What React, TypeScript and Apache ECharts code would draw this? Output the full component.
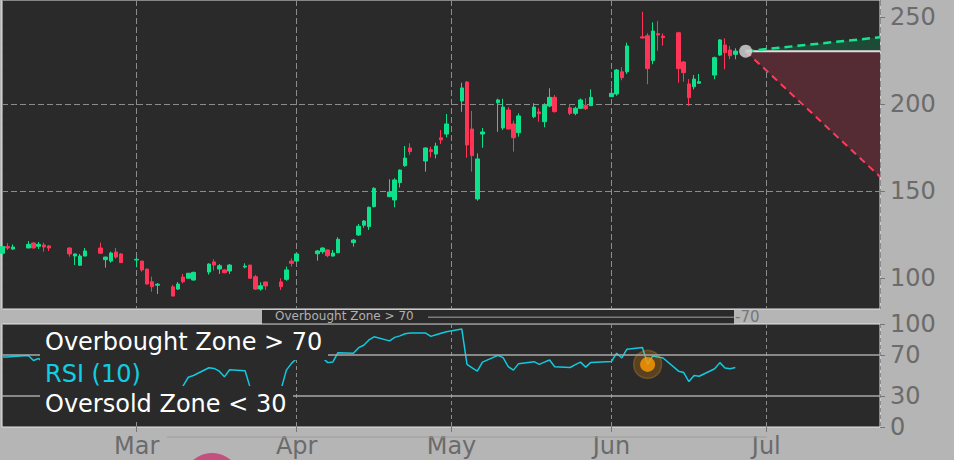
import React, { useEffect, useRef } from 'react';
import * as echarts from 'echarts';

// ---- Data ----
const dates = [
  '2021-02-03','2021-02-04','2021-02-05','2021-02-08','2021-02-09','2021-02-10','2021-02-11','2021-02-12',
  '2021-02-16','2021-02-17','2021-02-18','2021-02-19','2021-02-22','2021-02-23','2021-02-24','2021-02-25','2021-02-26',
  '2021-03-01','2021-03-02','2021-03-03','2021-03-04','2021-03-05','2021-03-08','2021-03-09','2021-03-10','2021-03-11','2021-03-12',
  '2021-03-15','2021-03-16','2021-03-17','2021-03-18','2021-03-19','2021-03-22','2021-03-23','2021-03-24','2021-03-25','2021-03-26',
  '2021-03-29','2021-03-30','2021-03-31','2021-04-01','2021-04-05','2021-04-06','2021-04-07','2021-04-08','2021-04-09',
  '2021-04-12','2021-04-13','2021-04-14','2021-04-15','2021-04-16','2021-04-19','2021-04-20','2021-04-21','2021-04-22','2021-04-23',
  '2021-04-26','2021-04-27','2021-04-28','2021-04-29','2021-04-30','2021-05-03','2021-05-04','2021-05-05','2021-05-06','2021-05-07',
  '2021-05-10','2021-05-11','2021-05-12','2021-05-13','2021-05-14','2021-05-17','2021-05-18','2021-05-19','2021-05-20','2021-05-21',
  '2021-05-24','2021-05-25','2021-05-26','2021-05-27','2021-05-28','2021-06-01','2021-06-02','2021-06-03','2021-06-04',
  '2021-06-07','2021-06-08','2021-06-09','2021-06-10','2021-06-11','2021-06-14','2021-06-15','2021-06-16','2021-06-17','2021-06-18',
  '2021-06-21','2021-06-22','2021-06-23','2021-06-24','2021-06-25'
];
const opens = [
  114.4,118.2,116.8,117.4,120.3,118.4,119.1,118.6,
  117.4,112.8,107.5,112.8,117.4,110.7,109.9,115.1,114.0,
  110.5,109.9,105.3,98.0,96.0,95.1,93.8,100.7,100.0,99.0,
  103.6,109.4,105.3,104.8,104.2,106.5,107.6,100.9,93.8,97.9,
  97.9,99.4,109.9,109.9,114.1,115.3,116.3,112.8,114.7,
  120.5,124.9,130.5,129.7,141.2,146.9,145.0,155.0,164.7,174.9,
  167.4,173.9,171.4,180.8,182.9,201.9,212.8,185.8,145.6,182.9,
  200.9,186.4,196.7,188.7,183.7,192.9,195.6,190.0,199.0,204.0,
  198.0,194.8,197.7,199.4,199.2,204.4,205.9,218.7,218.7,
  238.8,239.4,225.1,240.6,239.2,241.1,224.3,211.7,210.1,212.1,
  216.8,228.3,234.1,231.2,228.7
];
const closes = [
  118.2,117.4,118.0,119.5,117.4,119.5,118.0,117.4,
  114.0,114.0,112.8,115.7,114.4,112.2,114.5,112.2,109.0,
  110.9,104.8,96.7,95.2,96.6,89.8,96.7,98.0,102.9,103.4,
  108.2,107.6,107.2,103.2,107.6,107.0,100.0,93.8,95.7,95.6,
  95.2,104.8,108.6,114.0,115.7,117.4,113.0,114.5,122.4,
  122.0,129.9,132.9,140.8,151.7,149.6,156.5,162.2,169.1,172.8,
  174.9,172.8,176.0,179.5,188.7,209.4,176.6,170.5,168.6,184.1,
  202.5,198.4,185.8,180.8,193.3,198.4,194.6,199.4,204.0,195.8,
  194.8,197.7,202.5,197.5,204.0,206.3,219.7,215.3,233.5,
  238.1,220.5,242.1,239.8,238.3,220.5,218.2,203.8,214.5,213.0,
  226.8,237.0,229.7,227.9,230.6
];
const lows = [
  113.5,116.3,116.3,117.4,117.2,116.8,115.3,115.7,
  112.4,107.6,107.1,112.6,114.2,106.1,109.0,111.3,108.9,
  106.3,103.8,96.5,92.3,91.0,89.6,93.3,97.1,99.9,98.6,
  102.1,104.4,102.5,102.9,102.5,105.7,99.9,93.3,92.9,93.3,
  93.3,98.6,106.7,109.8,110.1,114.1,112.1,112.4,114.4,
  118.2,124.3,129.1,127.8,140.8,146.7,140.8,152.1,164.1,170.9,
  161.3,169.5,168.9,177.2,181.0,195.7,169.3,161.3,144.6,175.0,
  184.2,185.2,185.6,172.8,181.4,192.0,190.0,186.8,198.3,195.2,
  193.8,193.7,197.5,196.7,199.0,204.2,204.9,213.8,217.4,
  237.8,211.5,223.0,230.8,233.7,212.4,213.0,199.0,208.6,211.9,
  214.4,227.9,220.1,225.9,225.9
];
const highs = [
  118.8,120.1,119.5,121.4,120.7,120.9,120.5,119.1,
  117.8,114.2,114.0,117.4,120.5,112.4,115.3,117.4,114.4,
  112.1,110.0,105.4,100.9,97.3,96.2,97.9,102.5,103.0,103.8,
  108.6,110.9,108.2,105.2,108.2,108.6,107.7,101.9,97.7,97.9,
  100.0,106.7,111.5,114.4,116.3,117.8,116.6,116.3,123.6,
  122.6,131.2,133.5,141.2,152.3,156.9,157.5,162.6,176.0,177.6,
  175.2,175.6,177.9,185.2,194.4,212.4,213.4,196.2,171.8,186.4,
  203.2,203.2,198.3,190.6,194.8,200.6,197.7,200.6,209.2,205.3,
  200.0,198.6,203.4,203.4,208.6,209.7,220.3,221.3,235.4,
  253.2,240.8,247.1,247.9,240.8,241.7,224.9,214.5,216.8,217.4,
  227.4,237.4,237.9,233.5,232.2
];
const rsiValues = [
  68,68,68.5,69.5,64.5,66.5,62,60,
  50,46,42,47,44,40,45,41,36,
  38,33,24,21,24,18,28,40,48.3,50,
  57.5,56.9,54.2,48.7,55.6,54.6,38,30,34,32,
  37,55.2,61.8,66.5,68,67.5,62.5,63,72.2,
  71.6,77,79.4,84.5,87.6,83.6,87,88.5,90.5,91.2,
  91.2,88,89.5,91,92.5,95.1,60.8,57.5,54.2,63,
  69.6,67.4,58.5,55.2,61.5,63.4,60.8,63,65,58.5,
  57.8,60.5,63,58.1,62.7,63.7,71.6,67,75.5,
  77.2,60.8,69,68,67,54.2,52.9,44.1,50,49.3,
  56.6,62.5,57.2,56.6,57.8
];
const priceTicks = [100, 150, 200, 250];
const rsiTicks = [0, 30, 70, 100];
const rsiLevels = [70, 30];
const monthNames = ['Jan','Feb','Mar','Apr','May','Jun','Jul','Aug','Sep','Oct','Nov','Dec'];
const forecastDates = ['2021-06-27T00:00:00Z', '2021-07-23T00:46:00Z'];
const forecastBase = [230.5, 230.5];
const forecastUpper = [230.5, 238.5];
const forecastLower = [230.5, 158.4];
const rsiMarkerDate = '2021-06-08';
const rsiMarkerValue = 60.8;
const legendTexts = ['Overbought Zone > 70', 'RSI (10)', 'Oversold Zone < 30'];

const DAY = 864e5;
const ts = (s: string) => Date.parse(s.length === 10 ? s + 'T00:00:00Z' : s);
const X_MIN = Date.UTC(2021, 2, 1) - 26.101 * DAY;
const X_MAX = ts(forecastDates[1]);
const FONT = 'DejaVu Sans';

export default function App() {
  const ref = useRef<HTMLDivElement>(null);
  useEffect(() => {
    if (!ref.current) return;
    const chart = echarts.init(ref.current, undefined, { renderer: 'svg' });
    const dashed = { color: '#8c8c8c', type: [6, 3], width: 1 };
    const f0 = ts(forecastDates[0]);
    const f1 = ts(forecastDates[1]);
    const option: any = {
      animation: false,
      useUTC: true,
      backgroundColor: '#b5b5b5',
      grid: [
        { left: 2, top: 0, width: 878, height: 309, show: true, backgroundColor: '#2a2a2a', borderColor: '#e4e4e4', borderWidth: 1 },
        { left: 2, top: 324, width: 878, height: 103, show: true, backgroundColor: '#2a2a2a', borderColor: '#e4e4e4', borderWidth: 1 },
      ],
      xAxis: [
        {
          type: 'time', gridIndex: 0, min: X_MIN, max: X_MAX,
          axisLine: { show: false }, axisLabel: { show: false },
          axisTick: { show: false },
          splitLine: { show: true, lineStyle: dashed },
        },
        {
          type: 'time', gridIndex: 1, min: X_MIN, max: X_MAX,
          axisLine: { show: false },
          axisTick: { show: true, length: 5, lineStyle: { color: '#777' } },
          axisLabel: {
            color: '#6b6b6b', fontSize: 24, lineHeight: 20, fontFamily: FONT, margin: 9,
            formatter: (v: number) => monthNames[new Date(v).getUTCMonth()],
          },
          splitLine: { show: true, lineStyle: { color: '#8c8c8c', type: [4, 3], width: 1 } },
        },
      ],
      yAxis: [
        {
          type: 'value', gridIndex: 0, position: 'right', min: 82.35, max: 259.94, splitNumber: 4,
          axisLine: { show: false },
          axisTick: { show: true, length: 5, customValues: priceTicks, lineStyle: { color: '#777' } },
          axisLabel: { customValues: priceTicks, color: '#6b6b6b', fontSize: 24, fontFamily: FONT, margin: 10 },
          splitLine: { show: true, showMinLine: false, showMaxLine: false, lineStyle: dashed },
        },
        {
          type: 'value', gridIndex: 1, position: 'right', min: 0, max: 100,
          axisLine: { show: false },
          axisTick: { show: true, length: 5, customValues: rsiTicks, lineStyle: { color: '#777' } },
          axisLabel: { customValues: rsiTicks, color: '#6b6b6b', fontSize: 24, fontFamily: FONT, margin: 10 },
          splitLine: { show: false },
        },
      ],
      series: [
        {
          type: 'candlestick', xAxisIndex: 0, yAxisIndex: 0, barWidth: 4,
          encode: { x: 0, y: [1, 2, 3, 4] },
          data: dates.map((d, i) => [ts(d), opens[i], closes[i], lows[i], highs[i]]),
          itemStyle: { color: '#0fe08c', color0: '#ff3456', borderColor: '#0fe08c', borderColor0: '#ff3456', borderWidth: 1 },
          z: 3,
        },
        {
          type: 'custom', xAxisIndex: 0, yAxisIndex: 0, silent: true, z: 2,
          data: [[f0, forecastBase[0]]],
          renderItem: (_p: any, api: any) => {
            const b0 = api.coord([f0, forecastBase[0]]);
            const b1 = api.coord([f1, forecastBase[1]]);
            const u1 = api.coord([f1, forecastUpper[1]]);
            const l1 = api.coord([f1, forecastLower[1]]);
            return {
              type: 'group',
              children: [
                { type: 'polygon', shape: { points: [b0, b1, u1] }, style: { fill: '#1d4b37' } },
                { type: 'polygon', shape: { points: [b0, b1, l1] }, style: { fill: '#552c33' } },
              ],
            };
          },
        },
        {
          type: 'line', xAxisIndex: 0, yAxisIndex: 0, symbol: 'none', z: 4,
          data: forecastDates.map((d, i) => [ts(d), forecastBase[i]]),
          lineStyle: { color: '#dedede', width: 2 },
        },
        {
          type: 'line', xAxisIndex: 0, yAxisIndex: 0, symbol: 'none', z: 4,
          data: forecastDates.map((d, i) => [ts(d), forecastUpper[i]]),
          lineStyle: { color: '#12e58e', width: 2.5, type: [8, 5] },
        },
        {
          type: 'line', xAxisIndex: 0, yAxisIndex: 0, symbol: 'none', z: 4,
          data: forecastDates.map((d, i) => [ts(d), forecastLower[i]]),
          lineStyle: { color: '#ff3a5c', width: 2, type: [7, 5] },
        },
        {
          type: 'scatter', xAxisIndex: 0, yAxisIndex: 0, symbolSize: 13, z: 5,
          data: [[f0, forecastBase[0]]],
          itemStyle: { color: '#d9d9d9' },
        },
        {
          type: 'line', xAxisIndex: 1, yAxisIndex: 1, symbol: 'none', z: 3,
          data: dates.map((d, i) => [ts(d), rsiValues[i]]),
          lineStyle: { color: '#12c9de', width: 1.5 },
          markLine: {
            silent: true, symbol: 'none', label: { show: false },
            lineStyle: { color: '#a9a9a9', width: 1.5, type: 'solid' },
            data: rsiLevels.map((v) => ({ yAxis: v })),
          },
        },
        {
          type: 'scatter', xAxisIndex: 1, yAxisIndex: 1, symbolSize: 28, z: 4,
          data: [[ts(rsiMarkerDate), rsiMarkerValue]],
          itemStyle: { color: 'rgba(255,150,0,0.28)', borderColor: 'rgba(255,170,60,0.3)', borderWidth: 1.5 },
        },
        {
          type: 'scatter', xAxisIndex: 1, yAxisIndex: 1, symbolSize: 15, z: 5,
          data: [[ts(rsiMarkerDate), rsiMarkerValue]],
          itemStyle: { color: '#ff9a00' },
        },
      ],
      graphic: [
        { type: 'rect', z: 50, shape: { x: 40, y: 325, width: 288, height: 35 }, style: { fill: '#2a2a2a' } },
        { type: 'rect', z: 50, shape: { x: 40, y: 360, width: 105, height: 26 }, style: { fill: '#2a2a2a' } },
        { type: 'rect', z: 50, shape: { x: 40, y: 386, width: 253, height: 34 }, style: { fill: '#2a2a2a' } },
        { type: 'text', z: 51, x: 45, y: 342, style: { text: legendTexts[0], fill: '#ffffff', font: `24px "${FONT}"`, verticalAlign: 'middle' } },
        { type: 'text', z: 51, x: 45, y: 374, style: { text: legendTexts[1], fill: '#10cde3', font: `24px "${FONT}"`, verticalAlign: 'middle' } },
        { type: 'text', z: 51, x: 45, y: 404, style: { text: legendTexts[2], fill: '#ffffff', font: `24px "${FONT}"`, verticalAlign: 'middle' } },
        // overlapping strip artefact between the panels
        { type: 'rect', z: 40, shape: { x: 262, y: 310, width: 472, height: 13.5 }, style: { fill: '#2a2a2a' } },
        { type: 'line', z: 41, shape: { x1: 428, y1: 317.3, x2: 734, y2: 317.3 }, style: { stroke: '#7a7a7a', lineWidth: 1.5 } },
        { type: 'text', z: 41, x: 275, y: 310, style: { text: 'Overbought Zone > 70', fill: '#b0b0b0', font: `12px "${FONT}"`, verticalAlign: 'top' } },
        { type: 'text', z: 41, x: 735, y: 317, style: { text: '-70', fill: '#777777', font: `15px "${FONT}"`, verticalAlign: 'middle' } },
        { type: 'line', z: 1, shape: { x1: 167, y1: 437, x2: 767, y2: 437 }, style: { stroke: '#9c9c9c', lineWidth: 1 } },
        { type: 'circle', z: 1, shape: { cx: 212, cy: 482, r: 29 }, style: { fill: '#c4507e' } },
      ],
    };
    chart.setOption(option);
    return () => chart.dispose();
  }, []);
  return <div ref={ref} style={{ position: 'fixed', left: 0, top: 0, width: 954, height: 460 }} />;
}
